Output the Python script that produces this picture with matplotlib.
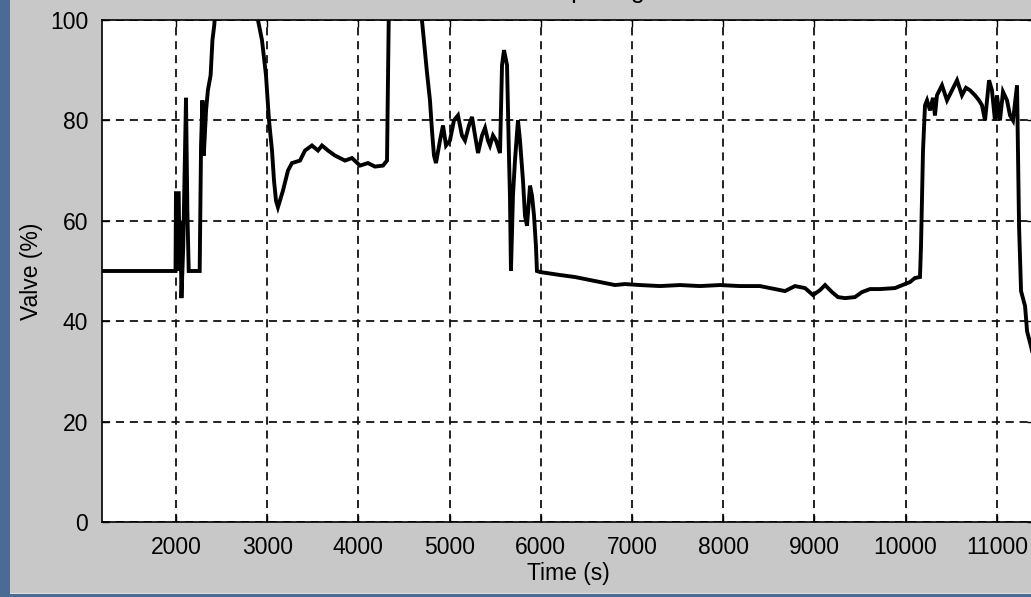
import matplotlib
matplotlib.use("Agg")
import matplotlib.pyplot as plt
from matplotlib.patches import Rectangle

plt.rcParams['font.family'] = ['Liberation Sans', 'DejaVu Sans']

# Valve opening trace over time
time_s = [1189, 1995, 2000, 2030, 2040, 2050, 2060, 2080, 2110, 2125, 2140, 2260,
          2275, 2290, 2305, 2330, 2350, 2380, 2400, 2420, 2440, 2500, 2800, 2880,
          2899, 2943, 2987, 3020, 3053, 3075, 3097, 3118, 3173, 3228, 3272, 3360,
          3415, 3491, 3557, 3601, 3667, 3743, 3853, 3930, 4018, 4105, 4182, 4270,
          4314, 4336, 4400, 4650, 4697, 4752, 4785, 4807, 4829, 4851, 4895, 4928,
          4961, 5004, 5048, 5092, 5136, 5169, 5213, 5246, 5279, 5312, 5356, 5389,
          5421, 5443, 5476, 5509, 5553, 5575, 5597, 5630, 5651, 5662, 5673, 5695,
          5717, 5750, 5772, 5805, 5827, 5849, 5882, 5904, 5926, 5947, 5958, 5991,
          6211, 6375, 6540, 6704, 6814, 6923, 7088, 7307, 7526, 7746, 7965, 8184,
          8404, 8568, 8678, 8787, 8897, 8985, 9062, 9117, 9193, 9259, 9336, 9445,
          9522, 9610, 9720, 9884, 9939, 9994, 10048, 10103, 10158, 10169, 10191,
          10213, 10235, 10268, 10300, 10322, 10344, 10399, 10454, 10509, 10564,
          10618, 10662, 10706, 10761, 10805, 10838, 10871, 10915, 10947, 10980,
          11002, 11035, 11068, 11112, 11145, 11178, 11222, 11244, 11266, 11310,
          11332, 11375, 11400]
valve_pct = [50, 50, 65.5, 65.5, 50, 60, 44.6, 55, 84.5, 62, 50, 50,
             75, 84, 73, 82, 86, 89, 96, 99, 104, 110, 110, 104,
             100, 96, 89, 80, 74, 68, 64, 62.7, 66, 70, 71.5, 72,
             74, 75, 74, 75, 74, 73, 72, 72.5, 71, 71.5, 70.8, 71,
             72, 105, 110, 110, 100, 89.6, 84, 78, 73, 71.5, 76, 79,
             75, 76, 80, 81, 77, 76, 79, 80.7, 77, 73.5, 77, 78.5,
             76, 75, 77, 76, 73.5, 91, 94, 91, 73, 65, 50, 65,
             72, 80, 76, 68, 61, 59, 67, 65, 61, 55, 50, 49.8,
             49.2, 48.8, 48.2, 47.6, 47.2, 47.4, 47.2, 47.0, 47.2, 47.0, 47.2, 47.0,
             47.0, 46.4, 46.0, 47.0, 46.6, 45.2, 46.2, 47.2, 45.8, 44.8, 44.6, 44.8,
             45.8, 46.4, 46.4, 46.6, 47.0, 47.4, 47.8, 48.6, 48.8, 55, 74,
             83, 84, 82, 84.5, 81, 85, 87, 84, 86, 88,
             85, 86.5, 86, 85, 84, 83, 80, 88, 86, 80,
             85, 80, 85.7, 84, 81, 80, 87, 59, 46, 43,
             38, 35, 33]

x_ticks = [2000, 3000, 4000, 5000, 6000, 7000, 8000, 9000, 10000, 11000]
y_ticks = [0, 20, 40, 60, 80, 100]

W, H = 1031, 597
fig = plt.figure(figsize=(W / 100, H / 100), dpi=100)
fig.patch.set_facecolor('#c8c8c8')

# Desktop strips around the window
fig.patches.append(Rectangle((0, 0), 10 / W, 1, transform=fig.transFigure,
                             facecolor='#4b6b94', edgecolor='none', zorder=0))
fig.patches.append(Rectangle((0, 0), 1, 3 / H, transform=fig.transFigure,
                             facecolor='#4b6b94', edgecolor='none', zorder=0))
fig.patches.append(Rectangle((10 / W, 3 / H), 1, 1 / H, transform=fig.transFigure,
                             facecolor='#e0e0e0', edgecolor='none', zorder=0))

left, right, top, bottom = 102, 1034, 20, 522
ax = fig.add_axes([left / W, (H - bottom) / H, (right - left) / W, (bottom - top) / H])
ax.set_facecolor('white')

ax.plot(time_s, valve_pct, color='black', lw=2.8, solid_joinstyle='miter', zorder=3)

ax.set_xlim(1189, 11408)
ax.set_ylim(0, 100)
ax.set_xticks(x_ticks)
ax.set_yticks(y_ticks)
ax.grid(True, color='#111111', lw=1.3, linestyle=(0, (4.5, 3.2)))

ax.tick_params(direction='in', length=5, width=1, top=True, right=True,
               labelsize=16.5, colors='black', pad=10)
for s in ax.spines.values():
    s.set_linewidth(1.2)
    s.set_color('black')

ax.set_xlabel('Time (s)', fontsize=16.5, labelpad=2)
ax.set_ylabel('Valve (%)', fontsize=16.5, labelpad=5)

fig.text(0.556, 1 + 2 / H, 'Valve output signal', ha='center', va='baseline',
         fontsize=18)

fig.savefig('out.png', dpi=100, facecolor=fig.get_facecolor())
